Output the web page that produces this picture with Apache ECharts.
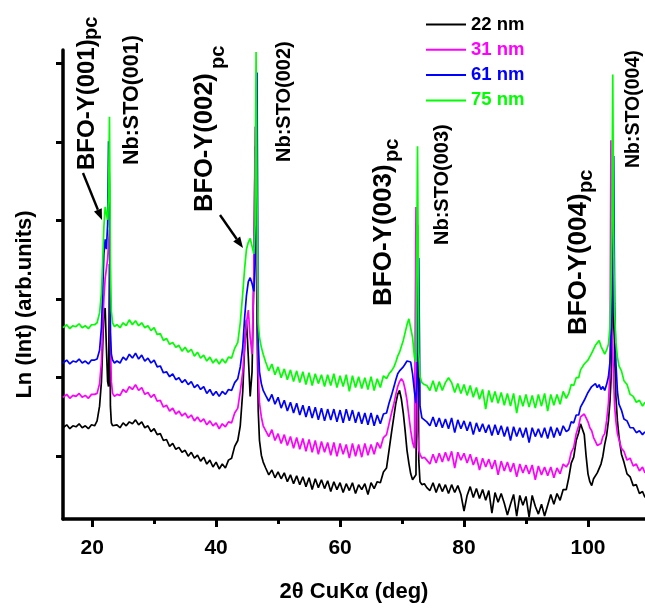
<!DOCTYPE html>
<html><head><meta charset="utf-8">
<script src="https://cdn.jsdelivr.net/npm/echarts@6/dist/echarts.min.js"></script>
<style>html,body{margin:0;padding:0;background:#fff}#c{width:645px;height:608px}</style>
</head><body><div id="c"></div>
<script>
// 2θ positions (deg)
const twoTheta = [
15.3,15.9,16.4,16.9,17.4,17.9,18.4,18.9,19.4,19.9,20.4,
20.8,21.2,21.5,21.7,21.9,22.1,22.3,22.5,22.65,22.8,22.95,23.1,23.3,23.6,24.0,
24.5,25,25.5,26,26.5,27,27.5,28,28.5,29,29.5,30,30.5,31,31.5,32,32.5,33,33.5,34,34.5,35,35.5,36,36.5,37,37.5,38,38.5,39,39.5,40,40.5,41,41.5,42,42.5,43,43.5,
43.9,44.3,44.6,44.9,45.2,45.5,45.8,46.1,46.3,46.45,46.6,46.8,47.0,47.3,47.6,48.0,
48.5,49,49.5,50,50.5,51,51.5,52,52.5,53,53.5,54,54.5,55,55.5,56,56.5,57,57.5,58,58.5,59,59.5,60,60.5,61,61.5,62,62.5,63,63.5,64,64.5,65,65.5,66,66.5,67,67.5,
67.9,68.3,68.7,69.0,69.3,69.6,69.9,70.2,70.5,70.8,71.1,71.4,71.7,72.0,72.25,72.5,72.7,72.9,73.2,73.6,74.0,
74.5,75,75.5,76,76.5,77,77.5,78,78.5,79,79.5,80,80.5,81,81.5,82,82.5,83,83.5,84,84.5,85,85.5,86,86.5,87,87.5,88,88.5,89,89.5,90,90.5,91,91.5,92,92.5,93,93.5,94,94.5,95,95.5,96,96.5,
96.9,97.3,97.7,98.1,98.5,98.8,99.1,99.4,99.7,100.0,100.3,100.6,100.9,101.2,101.5,101.8,102.1,102.4,102.7,103.0,103.3,103.55,103.7,103.85,104.0,104.15,104.3,104.5,104.75,105.0,105.4,105.8,106.3,106.8,107.3,107.8,108.3,108.8,109.2
];
// Ln(Int), arbitrary units (stacked offsets as plotted)
const int22nm = [
93,96,92,95,94,97,93,95,92,96,95,
100,115,140,175,212,215,175,140,135,260,115,98,95,93,96,
93,98,95,99,97,101,96,99,93,95,89,92,86,87,80,81,74,77,71,73,68,70,64,68,62,65,59,63,56,60,53,58,51,56,52,60,62,74,80,
95,130,175,203,165,125,150,250,380,330,200,110,80,65,58,52,
45,50,42,48,41,47,38,45,36,44,35,43,33,42,30,41,32,40,31,39,28,38,30,37,27,36,29,37,26,35,30,36,25,37,31,38,37,48,52,
70,88,105,118,127,131,122,108,90,70,57,46,40,38,45,300,60,38,35,36,32,
29,37,27,36,28,35,26,35,27,34,25,8,24,33,22,31,21,30,19,29,6,27,17,26,16,4,15,25,3,24,14,23,2,24,13,5,15,3,14,25,15,26,19,30,30,
42,57,63,80,88,97,98,86,64,46,38,34,41,43,47,47,56,64,76,85,100,120,140,170,200,250,170,125,100,84,66,58,46,43,34,35,26,28,22
];
const int31nm = [
124,127,123,126,125,128,124,126,123,127,127,
128,138,160,195,225,245,255,265,280,295,180,140,128,125,127,
126,132,129,135,132,137,131,134,127,129,124,127,120,121,114,116,110,113,107,110,105,108,103,106,100,104,99,102,96,100,95,98,92,97,94,99,98,108,113,
130,150,175,200,213,185,168,250,400,330,250,150,118,104,95,90,
84,91,80,87,77,86,75,84,72,83,71,82,69,81,68,80,66,79,68,78,65,78,64,77,66,76,62,77,64,76,63,77,65,76,66,78,72,83,86,
97,108,118,127,135,140,143,140,132,121,105,90,78,72,318,90,70,66,62,63,60,
56,66,57,67,58,68,59,69,52,68,60,67,57,66,55,63,50,62,53,61,51,60,45,59,49,58,48,57,43,56,47,55,46,55,40,54,45,53,44,53,42,52,46,56,53,
57,68,73,87,95,104,106,107,103,99,93,90,83,79,75,76,77,84,87,100,118,150,386,200,170,140,115,100,87,81,72,69,60,62,54,56,49,53,47
];
const int61nm = [
159,162,158,161,160,163,159,161,158,162,162,
163,172,195,230,270,285,275,300,385,340,190,168,162,159,161,
159,165,162,168,164,169,163,167,161,164,159,162,155,156,149,150,145,148,142,144,139,142,137,140,134,137,132,135,128,132,126,130,125,130,127,132,131,139,143,
155,175,205,228,242,246,240,232,260,330,455,180,150,138,131,126,
120,127,117,124,113,121,110,119,108,118,106,116,104,115,103,114,101,113,100,112,101,112,99,111,98,112,100,111,98,109,97,108,96,108,95,106,97,107,108,
118,126,135,142,148,151,153,155,158,161,163,160,148,130,118,150,266,115,103,101,99,
95,104,94,103,93,102,92,103,88,101,92,100,90,99,86,98,89,97,88,96,85,96,86,95,84,94,80,94,84,93,83,93,78,93,84,92,83,93,82,94,83,93,85,95,89,
91,99,98,106,106,114,113,121,121,129,128,135,133,138,134,137,132,135,131,137,145,160,180,210,260,370,220,160,130,117,111,102,100,93,93,88,90,86,89
];
const int75nm = [
195,198,194,197,196,199,195,197,194,198,198,
200,210,230,262,298,318,318,305,330,410,260,212,200,196,198,
195,200,197,203,198,202,197,200,195,197,192,195,188,189,182,184,178,180,175,177,171,175,170,173,166,170,164,167,161,165,159,163,158,163,159,165,164,174,180,
200,230,255,275,282,286,284,270,300,476,330,200,185,175,168,160,
151,158,147,155,144,153,142,152,140,151,139,150,137,149,136,148,138,147,135,147,136,148,134,146,135,147,130,146,134,145,133,144,132,145,131,143,134,146,143,
148,151,155,160,166,170,176,182,190,198,204,205,185,165,160,380,170,145,139,137,136,
131,141,130,140,131,139,144,139,129,138,128,137,126,136,124,134,122,132,112,131,119,130,118,129,116,128,115,128,108,126,115,127,114,126,113,127,115,128,110,127,116,127,117,130,123,
128,137,136,144,144,152,151,158,156,162,161,169,169,177,176,182,176,175,168,172,178,195,230,300,453,280,210,180,165,156,151,141,137,127,125,119,121,115,119
];
const seriesNames = ['22 nm','31 nm','61 nm','75 nm'];
const seriesColors = ['#000000','#ff00ff','#0000ff','#00ff00'];
const xMajorTicks = [20,40,60,80,100];
const xMinorTicks = [30,50,70,90];
const yTicks = [64,144,224,304,384,464];

const allY = [int22nm,int31nm,int61nm,int75nm];
allY.forEach((a,i)=>{ if(a.length!==twoTheta.length) throw new Error('length mismatch series '+i+': '+a.length+' vs '+twoTheta.length); });

const FONT = '"Liberation Sans", Arial, Helvetica, sans-serif';
const chart = echarts.init(document.getElementById('c'), null, {renderer:'canvas'});

function vtext(x, y, text, size){
  return {type:'text', x:x, y:y, rotation:Math.PI/2, z:100,
    style:{text:text, fill:'#000', font:'bold '+size+'px '+FONT,
      align:'left', textAlign:'left', verticalAlign:'middle', textVerticalAlign:'middle'}};
}
function arrow(x1,y1,x2,y2){
  const dx=x2-x1, dy=y2-y1, L=Math.sqrt(dx*dx+dy*dy), ux=dx/L, uy=dy/L;
  const hl=11, hw=4.2;
  const bx=x2-ux*hl, by=y2-uy*hl;
  return [
    {type:'line', z:100, shape:{x1:x1,y1:y1,x2:bx,y2:by}, style:{stroke:'#000', lineWidth:2.4}},
    {type:'polygon', z:100, shape:{points:[[x2,y2],[bx-uy*hw,by+ux*hw],[bx+uy*hw,by-ux*hw]]}, style:{fill:'#000'}}
  ];
}

const graphics = [
  vtext(87,170,'BFO-Y(001)',24), vtext(91,40,'pc',20),
  vtext(132,165,'Nb:STO(001)',21.5),
  vtext(205,212,'BFO-Y(002)',25.5), vtext(218,69,'pc',20),
  vtext(284.5,162,'Nb:STO(002)',20),
  vtext(384,306,'BFO-Y(003)',26), vtext(392,162,'pc',20),
  vtext(442,245,'Nb:STO(003)',20),
  vtext(579,335,'BFO-Y(004)',26), vtext(586,193,'pc',20),
  vtext(633.5,168,'Nb:STO(004)',19.5)
].concat(arrow(83,173,102,220)).concat(arrow(220,215,243,248));

const option = {
  animation:false,
  backgroundColor:'#ffffff',
  textStyle:{fontFamily:FONT},
  grid:{left:63,right:0,top:50,bottom:80,containLabel:false},
  legend:{
    orient:'vertical', left:421, top:10, itemWidth:40, itemHeight:18, itemGap:6.3,
    icon:'path://M0,9 L40,9 L40,11 L0,11 Z',
    data:seriesNames.map((n,i)=>({name:n, textStyle:{color:seriesColors[i]}})),
    textStyle:{fontSize:18.5, fontWeight:'bold', fontFamily:FONT, lineHeight:18}
  },
  xAxis:[{
    type:'value', min:15.3, max:109.2,
    axisLine:{show:true, onZero:false, lineStyle:{color:'#000', width:3.5}},
    axisTick:{show:true, customValues:xMajorTicks, length:8, lineStyle:{color:'#000', width:3}},
    axisLabel:{show:true, customValues:xMajorTicks, fontSize:21, fontWeight:'bold', color:'#000', fontFamily:FONT, margin:19},
    splitLine:{show:false},
    name:'2θ CuKα (deg)', nameLocation:'middle', nameGap:62,
    nameTextStyle:{fontSize:22, fontWeight:'bold', color:'#000', fontFamily:FONT}
  },{
    type:'value', min:15.3, max:109.2, position:'bottom', offset:0,
    axisLine:{show:false},
    axisTick:{show:true, customValues:xMinorTicks, length:5, lineStyle:{color:'#000', width:3}},
    axisLabel:{show:false}, splitLine:{show:false}
  }],
  yAxis:{
    type:'value', min:0, max:478,
    axisLine:{show:true, onZero:false, lineStyle:{color:'#000', width:3.5}},
    axisTick:{show:true, customValues:yTicks, length:7, lineStyle:{color:'#000', width:3}},
    axisLabel:{show:false}, splitLine:{show:false},
    name:'Ln (Int) (arb.units)', nameLocation:'middle', nameGap:27,
    nameTextStyle:{fontSize:22, fontWeight:'bold', color:'#000', fontFamily:FONT, padding:[0,40,0,0]}
  },
  series: allY.map((ys,i)=>({
    name:seriesNames[i], type:'line', xAxisIndex:0, symbol:'none', showSymbol:false,
    color:seriesColors[i],
    lineStyle:{color:seriesColors[i], width:1.7},
    data: twoTheta.map((x,j)=>[x, ys[j]])
  })),
  graphic: graphics
};
chart.setOption(option);
</script>
</body></html>
